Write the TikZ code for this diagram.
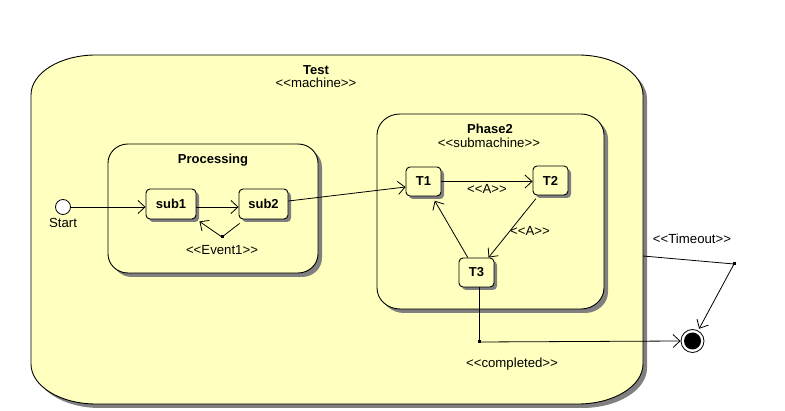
\documentclass[tikz,border=0pt]{standalone}
\usepackage{fontspec}
\setmainfont{Liberation Sans}
\usetikzlibrary{arrows.meta,shadows}
\definecolor{stfill}{HTML}{FFFFC0}
\definecolor{shad}{HTML}{808080}
\newcommand{\st}[1]{<\kern0pt<#1>\kern0pt>}
% #1 style, #2 x1, #3 y1, #4 x2, #5 y2, #6 rx, #7 ry
\newcommand{\ellbox}[7]{%
\path[#1] ({#2+#6},#3) -- ({#4-#6},#3) .. controls ({#4-0.448*#6},#3) and (#4,{#3+0.448*#7}) .. (#4,{#3+#7})
 -- (#4,{#5-#7}) .. controls (#4,{#5-0.448*#7}) and ({#4-0.448*#6},#5) .. ({#4-#6},#5)
 -- ({#2+#6},#5) .. controls ({#2+0.448*#6},#5) and (#2,{#5-0.448*#7}) .. (#2,{#5-#7})
 -- (#2,{#3+#7}) .. controls (#2,{#3+0.448*#7}) and ({#2+0.448*#6},#3) .. ({#2+#6},#3) -- cycle;}
\begin{document}
\begin{tikzpicture}[x=1pt,y=-1pt,
  font=\fontsize{13.2}{15}\selectfont,
  lbl/.style={anchor=base, inner sep=0pt, font=\fontsize{13.2}{15}\selectfont},
  blbl/.style={lbl, font=\fontsize{13}{15}\selectfont\bfseries},
  boxshadow/.style={fill=shad, shift={(4,4)}},
  boxbody/.style={fill=stfill, draw=black, line width=0.9pt},
  state/.style={draw, fill=stfill, rounded corners=4pt, line width=0.9pt,
    minimum width=35pt, minimum height=29pt, inner sep=0pt,
    font=\fontsize{13}{15}\selectfont\bfseries,
    drop shadow={shadow xshift=3pt, shadow yshift=-3pt, fill=shad, opacity=1}},
  pseudo/.style={circle, draw, fill=white, inner sep=0pt, line width=0.8pt},
  dot/.style={fill=black, rectangle, minimum size=3pt, inner sep=0pt},
  trans/.style={draw, line width=0.8pt, -{Straight Barb[length=7pt,width=13pt]}},
  plain/.style={draw, line width=0.8pt}]
\useasboundingbox (0,0) rectangle (785,411);
\fill[white] (0,0) rectangle (785,411);

% Test machine
\ellbox{boxshadow}{31}{55}{643}{404}{65}{40}
\ellbox{boxbody}{31}{55}{643}{404}{65}{40}
\node[blbl] (testT) at (316,74.5) {Test};
\node[lbl] (testS) at (316,88) {\st{machine}};
\coordinate (testR) at (643,256);

% Processing
\ellbox{boxshadow}{108}{144}{318}{273}{20}{19}
\ellbox{boxbody}{108}{144}{318}{273}{20}{19}
\node[blbl] (procT) at (213,163.5) {Processing};

% Phase2
\ellbox{boxshadow}{377}{114}{604}{309}{23}{21}
\ellbox{boxbody}{377}{114}{604}{309}{23}{21}
\node[blbl] (phT) at (490,133.5) {Phase2};
\node[lbl] (phS) at (489,147.5) {\st{submachine}};

% states
\node[pseudo, minimum size=15pt] (start) at (63,207) {};
\node[lbl] (startL) at (63,227.5) {Start};
\node[state, minimum width=50pt, minimum height=30pt] (sub1) at (171,204) {sub1};
\node[state, minimum width=49pt, minimum height=30pt] (sub2) at (263.5,204) {sub2};
\node[state] (T1) at (423.5,181.5) {T1};
\node[state] (T2) at (550.5,180.5) {T2};
\node[state] (T3) at (476.5,272.5) {T3};
\node[pseudo, minimum size=23pt] (final) at (692.5,341) {};
\fill (final.center) circle (8.5);

% junction points
\node[dot] (ev) at (222,237) {};
\node[dot] (cj) at (479,342) {};
\node[dot] (tj) at (734,264) {};

% transitions
\draw[trans] (start) -- (start -| sub1.west);
\draw[trans] ([yshift=-3pt]sub1.east) -- ([yshift=-3pt]sub2.west);
\draw[plain] ([shift={(1pt,-4pt)}]sub2.south west) -- (ev.center);
\draw[trans] (ev.center) -- ([shift={(3pt,-2pt)}]sub1.south east);
\node[lbl] (evL) at (222,254.5) {\st{Event1}};

\draw[trans] ([yshift=3pt]sub2.east) -- ([yshift=-5.5pt]T1.west);
\draw[trans] (T1.east) -- (T1.east -| T2.west);
\node[lbl] (a1) at (487,193.5) {\st{A}};
\draw[trans, shorten <=4pt] (T2) -- (T3);
\node[lbl] (a2) at (530,235.5) {\st{A}};
\draw[trans, shorten >=5pt] (T3) -- (T1);

\draw[plain] (T3.south -| cj) -- (cj.center);
\draw[trans] (cj.center) -- (final.west);
\node[lbl] (compL) at (512,368) {\st{completed}};

\draw[plain] (testR) -- (tj.center);
\draw[trans, shorten >=2pt] (tj.center) -- (final);
\node[lbl] (toL) at (692,243.5) {\st{Timeout}};
\end{tikzpicture}
\end{document}
